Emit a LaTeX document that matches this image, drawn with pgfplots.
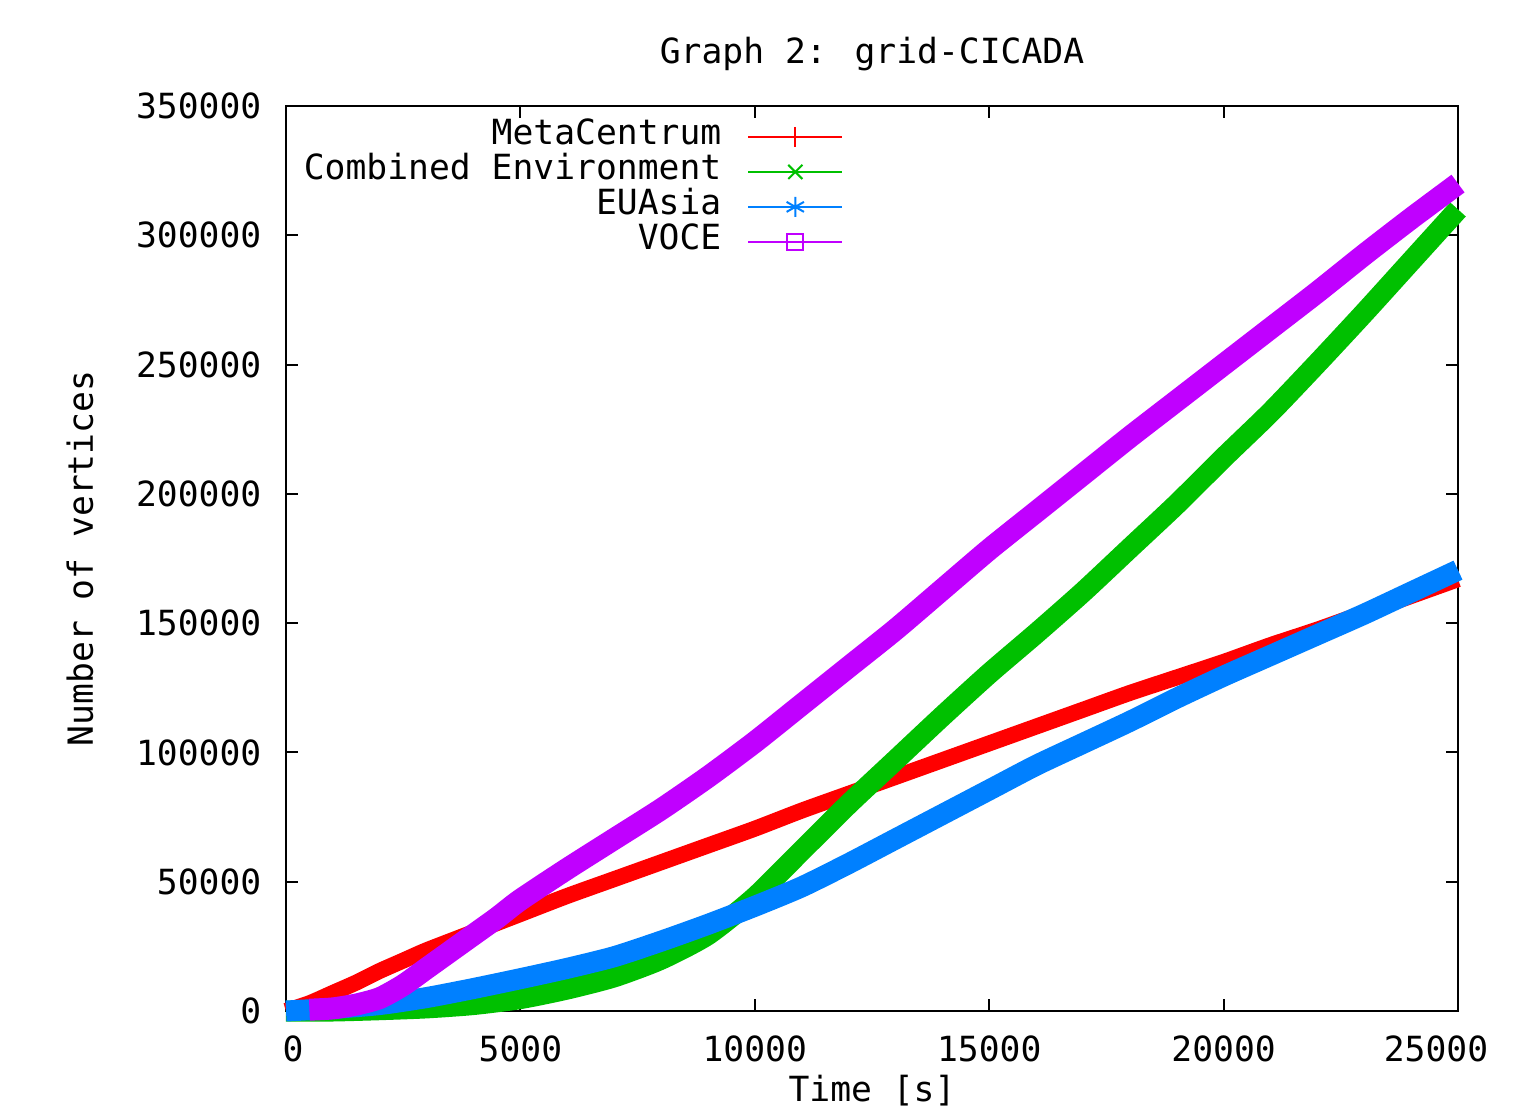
\documentclass[border=0pt]{standalone}
\usepackage{pgfplots}
\pgfplotsset{compat=1.18}
\usepackage{fontspec}
\setmainfont{DejaVu Sans Mono}
\definecolor{gred}{RGB}{255,0,0}
\definecolor{ggreen}{RGB}{0,192,0}
\definecolor{gblue}{RGB}{0,128,255}
\definecolor{gpurple}{RGB}{192,0,255}

\pgfplotstableread{
x y
0 0
500 3000
1000 7000
1500 11000
2000 15500
2500 19500
3000 23500
4000 30500
5000 37500
6000 44500
7000 51000
8000 57500
9000 64000
10000 70500
11000 77500
12000 84000
13000 90500
14000 97000
15000 103500
16000 110000
17000 116500
18000 123000
19000 129000
20000 135000
21000 141500
22000 147500
23000 154000
24000 160500
25000 167000
}\meta

\pgfplotstableread{
x y
0 0
1000 0
2000 500
3000 1200
4000 2500
5000 4800
6000 8500
7000 13200
8000 20000
9000 29500
10000 44000
11000 62000
12000 80000
13000 97000
14000 114000
15000 130500
16000 146000
17000 162000
18000 179000
19000 196000
20000 214000
21000 231500
22000 250500
23000 270000
24000 290000
25000 310000
}\comb

\pgfplotstableread{
x y
0 0
1000 1000
2000 2500
3000 5200
4000 8700
5000 12500
6000 16500
7000 21000
8000 27000
9000 33500
10000 40500
11000 48000
12000 57000
13000 66500
14000 76000
15000 85500
16000 95000
17000 103500
18000 112000
19000 121000
20000 129500
21000 137500
22000 145500
23000 153500
24000 162000
25000 170500
}\euasia

\pgfplotstableread{
x y
500 500
1000 1000
1500 2500
2000 5000
2500 10000
3000 16500
3500 23000
4000 29500
4500 36000
5000 43000
6000 55000
7000 66500
8000 78000
9000 90500
10000 104000
11000 118500
12000 133000
13000 147500
14000 163000
15000 178500
16000 193000
17000 207500
18000 222000
19000 236000
20000 250000
21000 264000
22000 278000
23000 292500
24000 306500
25000 320000
}\voce

\begin{document}
\begin{tikzpicture}[font=\fontsize{10.4}{12.5}\selectfont]
\begin{axis}[
  scale only axis,
  width=351.6pt, height=271.5pt,
  xmin=0, xmax=25000, ymin=0, ymax=350000,
  scaled ticks=false,
  clip=false,
  xtick={0,5000,10000,15000,20000,25000},
  xticklabels={{\hspace*{4.2pt}0},5000,10000,15000,20000,{\hspace*{-13.2pt}25000}},
  ytick={0,50000,100000,150000,200000,250000,300000,350000},
  yticklabels={0,50000,100000,150000,200000,250000,300000,350000},
  tick align=inside,
  major tick length=3.6pt,
  tick style={black, line width=0.6pt},
  axis line style={black, line width=0.6pt},
  xticklabel style={inner sep=0pt, anchor=north, yshift=-7.2pt},
  yticklabel style={inner sep=0pt, anchor=east, xshift=-7.2pt},
  every axis title shift=0pt,
  title={Graph 2: grid-CICADA},
  title style={at={(axis description cs:0.5,1.0575)}, anchor=center, inner sep=0pt},
  xlabel={Time [s]},
  xlabel style={at={(axis description cs:0.5,-0.088)}, anchor=center, inner sep=0pt},
  ylabel={Number of vertices},
  ylabel style={at={(axis description cs:-0.1758,0.5)}, anchor=center, inner sep=0pt},
  legend cell align=right,
  legend plot pos=right,
  legend image code/.code={\draw[#1, line width=0.6pt, mark repeat=2, mark phase=2] plot coordinates {(0pt,0pt) (14.1pt,0pt) (28.2pt,0pt)};},
  legend style={draw=none, fill=none, at={(axis description cs:0.4846,0.9933)}, anchor=north east,
    nodes={inner sep=0pt, text height=7.5pt, text depth=3pt}, row sep=0pt, column sep=7.8pt,
    font=\fontsize{10.4}{12.5}\selectfont},
]
\coordinate (bl) at (rel axis cs:0,0);
\coordinate (tr) at (rel axis cs:1,1);
\addlegendimage{gred, mark=+, mark size=3pt, mark options={solid, line width=0.6pt}}
\addlegendimage{ggreen, mark=x, mark size=3pt, mark options={solid, line width=0.6pt}}
\addlegendimage{gblue, mark=asterisk, mark size=3pt, mark options={solid, line width=0.6pt}}
\addlegendimage{gpurple, mark=square, mark size=2.4pt, mark options={solid, line width=0.6pt}}
\addplot[forget plot, gred, line width=4.8pt, smooth, tension=0.4, line join=round] table {\meta};
\addplot[forget plot, ggreen, line width=6.3pt, smooth, tension=0.4, line join=round] table {\comb};
\addplot[forget plot, gblue, line width=6.3pt, smooth, tension=0.4, line join=round] table {\euasia};
\addplot[forget plot, gpurple, line width=6.6pt, smooth, tension=0.4, line join=round] table {\voce};
\legend{MetaCentrum, Combined Environment, EUAsia, VOCE}
\end{axis}
\pgfresetboundingbox
\path[use as bounding box] ([shift={(-85.8pt,-28.5pt)}]bl) rectangle ([shift={(17.1pt,31.8pt)}]tr);
\end{tikzpicture}
\end{document}
